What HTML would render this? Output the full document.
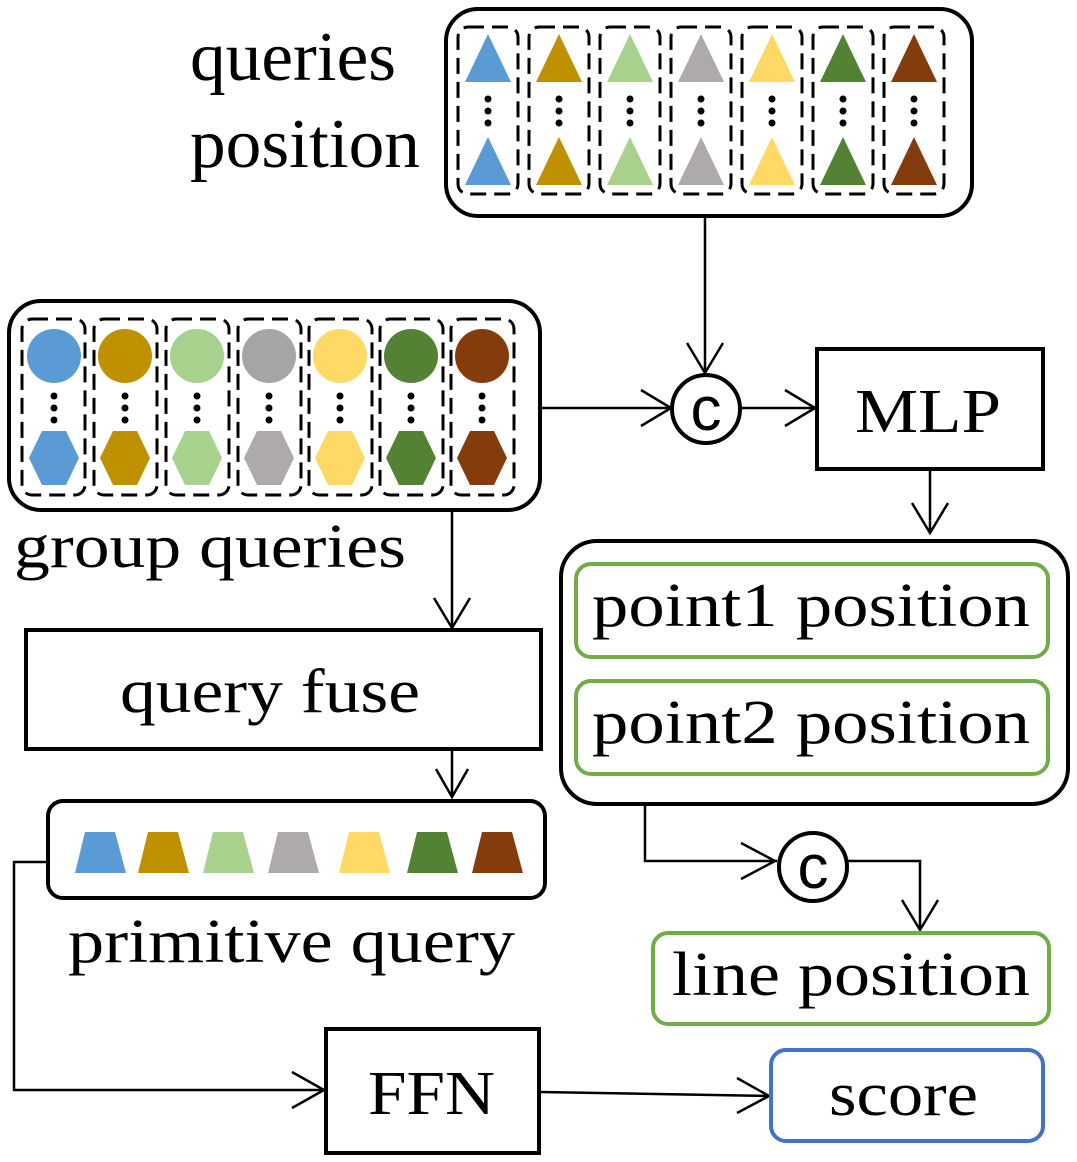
<!DOCTYPE html>
<html><head><meta charset="utf-8"><style>html,body{margin:0;padding:0;background:#fff}svg{display:block}</style></head>
<body>
<svg width="1077" height="1162" viewBox="0 0 1077 1162" xmlns="http://www.w3.org/2000/svg" font-family="Liberation Serif, serif">
<defs>
<g id="tri"><polygon points="0,-24 23,24 -23,24"/></g>
</defs>
<text x="190" y="80" font-size="70" textLength="206" lengthAdjust="spacingAndGlyphs">queries</text>
<text x="190" y="167" font-size="70" textLength="230" lengthAdjust="spacingAndGlyphs">position</text>

<rect x="446" y="9" width="526" height="207" rx="32" fill="none" stroke="#000" stroke-width="4"/>
<g fill="none" stroke="#000" stroke-width="3" stroke-dasharray="16,8">
<rect x="458" y="27" width="60" height="167" rx="10"/>
<rect x="529" y="27" width="60" height="167" rx="10"/>
<rect x="600" y="27" width="60" height="167" rx="10"/>
<rect x="671" y="27" width="60" height="167" rx="10"/>
<rect x="742" y="27" width="60" height="167" rx="10"/>
<rect x="813" y="27" width="60" height="167" rx="10"/>
<rect x="884" y="27" width="60" height="167" rx="10"/>
</g>
<g>
<g fill="#5b9bd5"><use href="#tri" x="488" y="58"/><use href="#tri" x="488" y="161"/></g>
<g fill="#bf9000"><use href="#tri" x="559" y="58"/><use href="#tri" x="559" y="161"/></g>
<g fill="#a9d18e"><use href="#tri" x="630" y="58"/><use href="#tri" x="630" y="161"/></g>
<g fill="#aeaaaa"><use href="#tri" x="701" y="58"/><use href="#tri" x="701" y="161"/></g>
<g fill="#ffd966"><use href="#tri" x="772" y="58"/><use href="#tri" x="772" y="161"/></g>
<g fill="#548235"><use href="#tri" x="843" y="58"/><use href="#tri" x="843" y="161"/></g>
<g fill="#843c0c"><use href="#tri" x="914" y="58"/><use href="#tri" x="914" y="161"/></g>
</g>
<g fill="#000">
<circle cx="488" cy="99" r="3.5"/><circle cx="488" cy="111" r="3.5"/><circle cx="488" cy="123" r="3.5"/>
<circle cx="559" cy="99" r="3.5"/><circle cx="559" cy="111" r="3.5"/><circle cx="559" cy="123" r="3.5"/>
<circle cx="630" cy="99" r="3.5"/><circle cx="630" cy="111" r="3.5"/><circle cx="630" cy="123" r="3.5"/>
<circle cx="701" cy="99" r="3.5"/><circle cx="701" cy="111" r="3.5"/><circle cx="701" cy="123" r="3.5"/>
<circle cx="772" cy="99" r="3.5"/><circle cx="772" cy="111" r="3.5"/><circle cx="772" cy="123" r="3.5"/>
<circle cx="843" cy="99" r="3.5"/><circle cx="843" cy="111" r="3.5"/><circle cx="843" cy="123" r="3.5"/>
<circle cx="914" cy="99" r="3.5"/><circle cx="914" cy="111" r="3.5"/><circle cx="914" cy="123" r="3.5"/>
</g>

<rect x="9" y="301" width="531" height="209" rx="32" fill="none" stroke="#000" stroke-width="4"/>
<g fill="none" stroke="#000" stroke-width="3" stroke-dasharray="16,8">
<rect x="22" y="319" width="63" height="176" rx="10"/>
<rect x="94" y="319" width="63" height="176" rx="10"/>
<rect x="166" y="319" width="63" height="176" rx="10"/>
<rect x="238" y="319" width="63" height="176" rx="10"/>
<rect x="309" y="319" width="63" height="176" rx="10"/>
<rect x="380" y="319" width="63" height="176" rx="10"/>
<rect x="451" y="319" width="63" height="176" rx="10"/>
</g>
<g>
<circle cx="54" cy="356" r="27" fill="#5b9bd5"/>
<circle cx="125" cy="356" r="27" fill="#bf9000"/>
<circle cx="197" cy="356" r="27" fill="#a9d18e"/>
<circle cx="269" cy="356" r="27" fill="#a5a5a5"/>
<circle cx="340" cy="356" r="27" fill="#ffd966"/>
<circle cx="411" cy="356" r="27" fill="#548235"/>
<circle cx="482" cy="356" r="27" fill="#843c0c"/>
</g>
<g>
<polygon transform="translate(54,458)" points="-25,0 -12,-27 12,-27 25,0 12,27 -12,27" fill="#5b9bd5"/>
<polygon transform="translate(125,458)" points="-25,0 -12,-27 12,-27 25,0 12,27 -12,27" fill="#bf9000"/>
<polygon transform="translate(197,458)" points="-25,0 -12,-27 12,-27 25,0 12,27 -12,27" fill="#a9d18e"/>
<polygon transform="translate(269,458)" points="-25,0 -12,-27 12,-27 25,0 12,27 -12,27" fill="#aeaaaa"/>
<polygon transform="translate(340,458)" points="-25,0 -12,-27 12,-27 25,0 12,27 -12,27" fill="#ffd966"/>
<polygon transform="translate(411,458)" points="-25,0 -12,-27 12,-27 25,0 12,27 -12,27" fill="#548235"/>
<polygon transform="translate(482,458)" points="-25,0 -12,-27 12,-27 25,0 12,27 -12,27" fill="#843c0c"/>
</g>
<g fill="#000">
<circle cx="54" cy="396" r="3.5"/><circle cx="54" cy="408" r="3.5"/><circle cx="54" cy="420" r="3.5"/>
<circle cx="125" cy="396" r="3.5"/><circle cx="125" cy="408" r="3.5"/><circle cx="125" cy="420" r="3.5"/>
<circle cx="197" cy="396" r="3.5"/><circle cx="197" cy="408" r="3.5"/><circle cx="197" cy="420" r="3.5"/>
<circle cx="269" cy="396" r="3.5"/><circle cx="269" cy="408" r="3.5"/><circle cx="269" cy="420" r="3.5"/>
<circle cx="340" cy="396" r="3.5"/><circle cx="340" cy="408" r="3.5"/><circle cx="340" cy="420" r="3.5"/>
<circle cx="411" cy="396" r="3.5"/><circle cx="411" cy="408" r="3.5"/><circle cx="411" cy="420" r="3.5"/>
<circle cx="482" cy="396" r="3.5"/><circle cx="482" cy="408" r="3.5"/><circle cx="482" cy="420" r="3.5"/>
</g>
<text x="14" y="567" font-size="62" textLength="392" lengthAdjust="spacingAndGlyphs">group queries</text>

<g fill="none" stroke="#000" stroke-width="2.5">
<line x1="705" y1="217" x2="705" y2="373"/><polyline points="687,343 705,373 723,343"/>
<line x1="541" y1="408" x2="671" y2="408"/><polyline points="641,390 671,408 641,426"/>
<line x1="740" y1="408" x2="815" y2="408"/><polyline points="785,390 815,408 785,426"/>
<line x1="930" y1="470" x2="930" y2="533"/><polyline points="912,503 930,533 948,503"/>
<line x1="452" y1="511" x2="452" y2="628"/><polyline points="434,598 452,628 470,598"/>
<line x1="452" y1="751" x2="452" y2="797"/><polyline points="436,769 452,797 468,769"/>
<polyline points="645,805 645,861 777,861"/><polyline points="741,843 775,861 741,879"/>
<polyline points="846,861 920,861 920,930"/><polyline points="902,900 920,930 938,900"/>
<polyline points="48,862 14,862 14,1090 324,1090"/><polyline points="292,1072 324,1090 292,1108"/>
<line x1="540" y1="1092" x2="769" y2="1096"/><polyline points="737,1078 769,1096 737,1113"/>
</g>
<g fill="none" stroke="#000" stroke-width="4">
<circle cx="706" cy="409" r="34"/>
<circle cx="813" cy="867" r="34"/>
</g>
<text x="706" y="430" font-size="62" text-anchor="middle" font-family="Liberation Sans, sans-serif">c</text>
<text x="813" y="888" font-size="62" text-anchor="middle" font-family="Liberation Sans, sans-serif">c</text>

<rect x="817" y="349" width="226" height="120" fill="none" stroke="#000" stroke-width="4"/>
<text x="855" y="432" font-size="62" textLength="146" lengthAdjust="spacingAndGlyphs">MLP</text>

<rect x="561" y="541" width="507" height="263" rx="36" fill="none" stroke="#000" stroke-width="4"/>
<rect x="576" y="564" width="472" height="93" rx="15" fill="none" stroke="#70ad47" stroke-width="4"/>
<rect x="576" y="681" width="472" height="93" rx="15" fill="none" stroke="#70ad47" stroke-width="4"/>
<text x="592" y="626" font-size="62" textLength="438" lengthAdjust="spacingAndGlyphs">point1 position</text>
<text x="592" y="743" font-size="62" textLength="438" lengthAdjust="spacingAndGlyphs">point2 position</text>

<rect x="653" y="933" width="396" height="91" rx="15" fill="none" stroke="#70ad47" stroke-width="4"/>
<text x="672" y="995" font-size="62" textLength="358" lengthAdjust="spacingAndGlyphs">line position</text>

<rect x="26" y="630" width="515" height="119" fill="none" stroke="#000" stroke-width="4"/>
<text x="120" y="712" font-size="62" textLength="300" lengthAdjust="spacingAndGlyphs">query fuse</text>

<rect x="48" y="801" width="497" height="97" rx="15" fill="none" stroke="#000" stroke-width="4"/>
<g>
<polygon points="75,873 85,832 115,832 126,873" fill="#5b9bd5"/>
<polygon points="138,873 148,832 178,832 189,873" fill="#bf9000"/>
<polygon points="203,873 213,832 243,832 254,873" fill="#a9d18e"/>
<polygon points="268,873 278,832 308,832 319,873" fill="#aeaaaa"/>
<polygon points="339,873 349,832 379,832 390,873" fill="#ffd966"/>
<polygon points="407,873 417,832 447,832 458,873" fill="#548235"/>
<polygon points="472,873 482,832 512,832 523,873" fill="#843c0c"/>
</g>
<text x="68" y="962" font-size="62" textLength="447" lengthAdjust="spacingAndGlyphs">primitive query</text>

<rect x="326" y="1029" width="213" height="124" fill="none" stroke="#000" stroke-width="4"/>
<text x="368" y="1114" font-size="62" textLength="127" lengthAdjust="spacingAndGlyphs">FFN</text>

<rect x="771" y="1050" width="272" height="91" rx="15" fill="none" stroke="#4472c4" stroke-width="4"/>
<text x="829" y="1115" font-size="62" textLength="149" lengthAdjust="spacingAndGlyphs">score</text>
</svg>
</body></html>
